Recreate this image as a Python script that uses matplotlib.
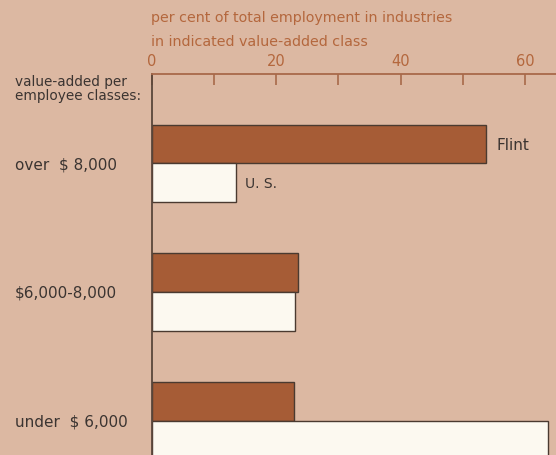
import numpy as np
import matplotlib
matplotlib.use("Agg")
import matplotlib.pyplot as plt

# values (per cent of total employment)
classes = ["over  $ 8,000", "$6,000-8,000", "under  $ 6,000"]
flint = [53.6, 23.5, 22.9]
us = [13.6, 23.1, 63.6]
tick_values = [0, 10, 20, 30, 40, 50, 60]
tick_labels = ["0", "", "20", "", "40", "", "60"]

bg = "#dcb8a2"
brown = "#a65c36"
paper = "#fcf9f0"
edge = "#4a3a30"
axis_brown = "#a8694a"
text_brown = "#b4673d"
text_dark = "#3b3431"

fig = plt.figure(figsize=(5.56, 4.56), dpi=100)
fig.patch.set_facecolor(bg)
ax = fig.add_axes([0.2725, 0.0, 0.7275, 0.8355])
ax.set_facecolor(bg)

y = np.arange(len(classes))
h = 0.30
ax.barh(y - h / 2, flint, height=h, color=brown, edgecolor=edge, linewidth=1.0)
ax.barh(y + h / 2, us, height=h, color=paper, edgecolor=edge, linewidth=1.0)

ax.set_xlim(0, 64.9)
ax.set_ylim(2.267, -0.694)

# top axis with inward ticks
ax.xaxis.tick_top()
ax.set_xticks(tick_values)
ax.set_xticklabels(tick_labels)
ax.tick_params(axis="x", direction="in", length=8, width=1.2, color=axis_brown,
               labelcolor=text_brown, labelsize=10.5, pad=4)
ax.set_yticks([])
for s in ["right", "bottom"]:
    ax.spines[s].set_visible(False)
ax.spines["top"].set_color(axis_brown)
ax.spines["top"].set_linewidth(1.3)
ax.spines["left"].set_color("#5a463a")
ax.spines["left"].set_linewidth(1.3)

# bar end labels
ax.text(flint[0] + 1.7, y[0] - h / 2, "Flint", va="center", ha="left",
        fontsize=11, color=text_dark)
ax.text(us[0] + 1.4, y[0] + h / 2, "U. S.", va="center", ha="left",
        fontsize=10, color=text_dark)

# class labels on the left
for i, lab in enumerate(classes):
    fig.text(15 / 556, 1 - (164.5 + 128.7 * i) / 456, lab, va="center", ha="left",
             fontsize=11, color=text_dark)
fig.text(15 / 556, 1 - 89 / 456, "value-added per\nemployee classes:", va="center",
         ha="left", fontsize=9.8, color=text_dark, linespacing=0.95)

# title above the axis
fig.text(151 / 556, 1 - 18 / 456, "per cent of total employment in industries",
         va="center", ha="left", fontsize=10.3, color=text_brown)
fig.text(151 / 556, 1 - 42 / 456, "in indicated value-added class",
         va="center", ha="left", fontsize=10.3, color=text_brown)

fig.savefig("out.png", dpi=100, facecolor=bg)
